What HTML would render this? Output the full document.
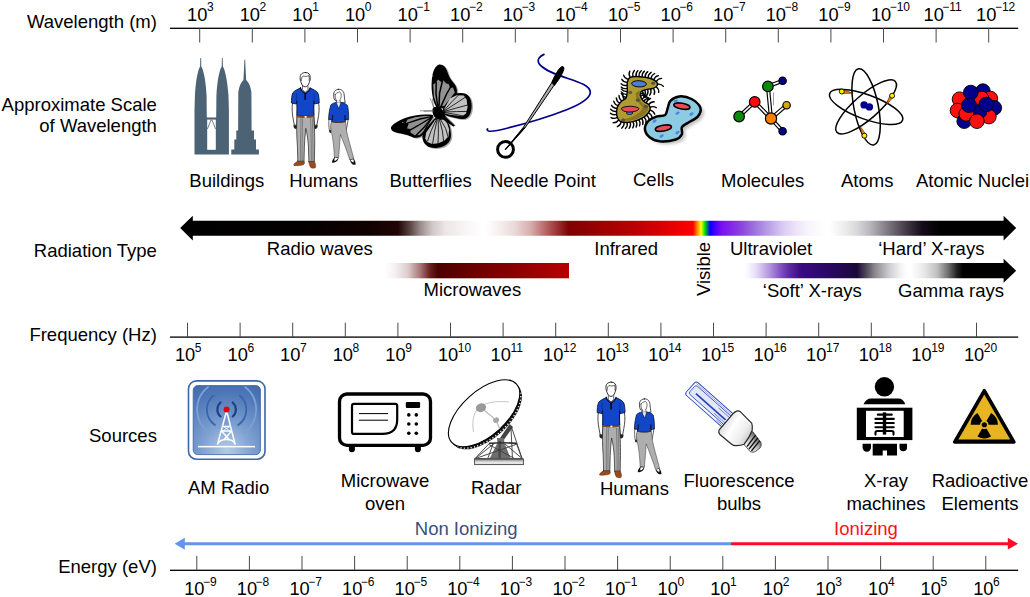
<!DOCTYPE html>
<html><head><meta charset="utf-8"><title>Electromagnetic spectrum</title>
<style>
html,body{margin:0;padding:0;background:#fff;}
body{width:1030px;height:597px;overflow:hidden;}
svg{display:block;font-family:"Liberation Sans",sans-serif;}
</style></head><body>
<svg width="1030" height="597" viewBox="0 0 1030 597">
<rect x="170" y="27.650000000000002" width="848.2" height="1.3" fill="#000"/>
<rect x="199.2" y="28.3" width="1" height="14.2" fill="#4a4a4a"/>
<rect x="251.79999999999998" y="28.3" width="1" height="14.2" fill="#4a4a4a"/>
<rect x="304.4" y="28.3" width="1" height="14.2" fill="#4a4a4a"/>
<rect x="357.0" y="28.3" width="1" height="14.2" fill="#4a4a4a"/>
<rect x="409.6" y="28.3" width="1" height="14.2" fill="#4a4a4a"/>
<rect x="462.2" y="28.3" width="1" height="14.2" fill="#4a4a4a"/>
<rect x="514.8" y="28.3" width="1" height="14.2" fill="#4a4a4a"/>
<rect x="567.4" y="28.3" width="1" height="14.2" fill="#4a4a4a"/>
<rect x="620.0" y="28.3" width="1" height="14.2" fill="#4a4a4a"/>
<rect x="672.6" y="28.3" width="1" height="14.2" fill="#4a4a4a"/>
<rect x="725.2" y="28.3" width="1" height="14.2" fill="#4a4a4a"/>
<rect x="777.8" y="28.3" width="1" height="14.2" fill="#4a4a4a"/>
<rect x="830.4000000000001" y="28.3" width="1" height="14.2" fill="#4a4a4a"/>
<rect x="883.0" y="28.3" width="1" height="14.2" fill="#4a4a4a"/>
<rect x="935.5999999999999" y="28.3" width="1" height="14.2" fill="#4a4a4a"/>
<rect x="988.2" y="28.3" width="1" height="14.2" fill="#4a4a4a"/>
<text x="187.10" y="20.5" font-size="18.3">10</text>
<text x="207.00" y="10.90" font-size="12">3</text>
<text x="239.70" y="20.5" font-size="18.3">10</text>
<text x="259.60" y="10.90" font-size="12">2</text>
<text x="292.30" y="20.5" font-size="18.3">10</text>
<text x="312.20" y="10.90" font-size="12">1</text>
<text x="344.90" y="20.5" font-size="18.3">10</text>
<text x="364.80" y="10.90" font-size="12">0</text>
<text x="397.50" y="20.5" font-size="18.3">10</text>
<text x="416.30" y="10.90" font-size="12">−1</text>
<text x="450.10" y="20.5" font-size="18.3">10</text>
<text x="468.90" y="10.90" font-size="12">−2</text>
<text x="502.70" y="20.5" font-size="18.3">10</text>
<text x="521.50" y="10.90" font-size="12">−3</text>
<text x="555.30" y="20.5" font-size="18.3">10</text>
<text x="574.10" y="10.90" font-size="12">−4</text>
<text x="607.90" y="20.5" font-size="18.3">10</text>
<text x="626.70" y="10.90" font-size="12">−5</text>
<text x="660.50" y="20.5" font-size="18.3">10</text>
<text x="679.30" y="10.90" font-size="12">−6</text>
<text x="713.10" y="20.5" font-size="18.3">10</text>
<text x="731.90" y="10.90" font-size="12">−7</text>
<text x="765.70" y="20.5" font-size="18.3">10</text>
<text x="784.50" y="10.90" font-size="12">−8</text>
<text x="818.30" y="20.5" font-size="18.3">10</text>
<text x="837.10" y="10.90" font-size="12">−9</text>
<text x="870.90" y="20.5" font-size="18.3">10</text>
<text x="889.70" y="10.90" font-size="12">−10</text>
<text x="923.50" y="20.5" font-size="18.3">10</text>
<text x="942.30" y="10.90" font-size="12">−11</text>
<text x="976.10" y="20.5" font-size="18.3">10</text>
<text x="994.90" y="10.90" font-size="12">−12</text>
<rect x="170" y="336.45000000000005" width="848.2" height="1.3" fill="#000"/>
<rect x="187.0" y="322.70000000000005" width="1" height="14.4" fill="#4a4a4a"/>
<rect x="239.6" y="322.70000000000005" width="1" height="14.4" fill="#4a4a4a"/>
<rect x="292.2" y="322.70000000000005" width="1" height="14.4" fill="#4a4a4a"/>
<rect x="344.8" y="322.70000000000005" width="1" height="14.4" fill="#4a4a4a"/>
<rect x="397.4" y="322.70000000000005" width="1" height="14.4" fill="#4a4a4a"/>
<rect x="450.0" y="322.70000000000005" width="1" height="14.4" fill="#4a4a4a"/>
<rect x="502.6" y="322.70000000000005" width="1" height="14.4" fill="#4a4a4a"/>
<rect x="555.2" y="322.70000000000005" width="1" height="14.4" fill="#4a4a4a"/>
<rect x="607.8" y="322.70000000000005" width="1" height="14.4" fill="#4a4a4a"/>
<rect x="660.4000000000001" y="322.70000000000005" width="1" height="14.4" fill="#4a4a4a"/>
<rect x="713.0" y="322.70000000000005" width="1" height="14.4" fill="#4a4a4a"/>
<rect x="765.6" y="322.70000000000005" width="1" height="14.4" fill="#4a4a4a"/>
<rect x="818.2" y="322.70000000000005" width="1" height="14.4" fill="#4a4a4a"/>
<rect x="870.8000000000001" y="322.70000000000005" width="1" height="14.4" fill="#4a4a4a"/>
<rect x="923.4" y="322.70000000000005" width="1" height="14.4" fill="#4a4a4a"/>
<rect x="976.0" y="322.70000000000005" width="1" height="14.4" fill="#4a4a4a"/>
<text x="174.90" y="361.4" font-size="18.3">10</text>
<text x="194.80" y="351.80" font-size="12">5</text>
<text x="227.50" y="361.4" font-size="18.3">10</text>
<text x="247.40" y="351.80" font-size="12">6</text>
<text x="280.10" y="361.4" font-size="18.3">10</text>
<text x="300.00" y="351.80" font-size="12">7</text>
<text x="332.70" y="361.4" font-size="18.3">10</text>
<text x="352.60" y="351.80" font-size="12">8</text>
<text x="385.30" y="361.4" font-size="18.3">10</text>
<text x="405.20" y="351.80" font-size="12">9</text>
<text x="437.90" y="361.4" font-size="18.3">10</text>
<text x="457.80" y="351.80" font-size="12">10</text>
<text x="490.50" y="361.4" font-size="18.3">10</text>
<text x="510.40" y="351.80" font-size="12">11</text>
<text x="543.10" y="361.4" font-size="18.3">10</text>
<text x="563.00" y="351.80" font-size="12">12</text>
<text x="595.70" y="361.4" font-size="18.3">10</text>
<text x="615.60" y="351.80" font-size="12">13</text>
<text x="648.30" y="361.4" font-size="18.3">10</text>
<text x="668.20" y="351.80" font-size="12">14</text>
<text x="700.90" y="361.4" font-size="18.3">10</text>
<text x="720.80" y="351.80" font-size="12">15</text>
<text x="753.50" y="361.4" font-size="18.3">10</text>
<text x="773.40" y="351.80" font-size="12">16</text>
<text x="806.10" y="361.4" font-size="18.3">10</text>
<text x="826.00" y="351.80" font-size="12">17</text>
<text x="858.70" y="361.4" font-size="18.3">10</text>
<text x="878.60" y="351.80" font-size="12">18</text>
<text x="911.30" y="361.4" font-size="18.3">10</text>
<text x="931.20" y="351.80" font-size="12">19</text>
<text x="963.90" y="361.4" font-size="18.3">10</text>
<text x="983.80" y="351.80" font-size="12">20</text>
<rect x="170" y="569.65" width="848.2" height="1.3" fill="#000"/>
<rect x="196.3" y="555.9" width="1" height="14.4" fill="#4a4a4a"/>
<rect x="248.9" y="555.9" width="1" height="14.4" fill="#4a4a4a"/>
<rect x="301.5" y="555.9" width="1" height="14.4" fill="#4a4a4a"/>
<rect x="354.1" y="555.9" width="1" height="14.4" fill="#4a4a4a"/>
<rect x="406.70000000000005" y="555.9" width="1" height="14.4" fill="#4a4a4a"/>
<rect x="459.3" y="555.9" width="1" height="14.4" fill="#4a4a4a"/>
<rect x="511.9000000000001" y="555.9" width="1" height="14.4" fill="#4a4a4a"/>
<rect x="564.5" y="555.9" width="1" height="14.4" fill="#4a4a4a"/>
<rect x="617.1" y="555.9" width="1" height="14.4" fill="#4a4a4a"/>
<rect x="669.7" y="555.9" width="1" height="14.4" fill="#4a4a4a"/>
<rect x="722.3" y="555.9" width="1" height="14.4" fill="#4a4a4a"/>
<rect x="774.9000000000001" y="555.9" width="1" height="14.4" fill="#4a4a4a"/>
<rect x="827.5" y="555.9" width="1" height="14.4" fill="#4a4a4a"/>
<rect x="880.1000000000001" y="555.9" width="1" height="14.4" fill="#4a4a4a"/>
<rect x="932.7" y="555.9" width="1" height="14.4" fill="#4a4a4a"/>
<rect x="985.3" y="555.9" width="1" height="14.4" fill="#4a4a4a"/>
<text x="184.20" y="595.2" font-size="18.3">10</text>
<text x="203.00" y="585.60" font-size="12">−9</text>
<text x="236.80" y="595.2" font-size="18.3">10</text>
<text x="255.60" y="585.60" font-size="12">−8</text>
<text x="289.40" y="595.2" font-size="18.3">10</text>
<text x="308.20" y="585.60" font-size="12">−7</text>
<text x="342.00" y="595.2" font-size="18.3">10</text>
<text x="360.80" y="585.60" font-size="12">−6</text>
<text x="394.60" y="595.2" font-size="18.3">10</text>
<text x="413.40" y="585.60" font-size="12">−5</text>
<text x="447.20" y="595.2" font-size="18.3">10</text>
<text x="466.00" y="585.60" font-size="12">−4</text>
<text x="499.80" y="595.2" font-size="18.3">10</text>
<text x="518.60" y="585.60" font-size="12">−3</text>
<text x="552.40" y="595.2" font-size="18.3">10</text>
<text x="571.20" y="585.60" font-size="12">−2</text>
<text x="605.00" y="595.2" font-size="18.3">10</text>
<text x="623.80" y="585.60" font-size="12">−1</text>
<text x="657.60" y="595.2" font-size="18.3">10</text>
<text x="677.50" y="585.60" font-size="12">0</text>
<text x="710.20" y="595.2" font-size="18.3">10</text>
<text x="730.10" y="585.60" font-size="12">1</text>
<text x="762.80" y="595.2" font-size="18.3">10</text>
<text x="782.70" y="585.60" font-size="12">2</text>
<text x="815.40" y="595.2" font-size="18.3">10</text>
<text x="835.30" y="585.60" font-size="12">3</text>
<text x="868.00" y="595.2" font-size="18.3">10</text>
<text x="887.90" y="585.60" font-size="12">4</text>
<text x="920.60" y="595.2" font-size="18.3">10</text>
<text x="940.50" y="585.60" font-size="12">5</text>
<text x="973.20" y="595.2" font-size="18.3">10</text>
<text x="993.10" y="585.60" font-size="12">6</text>
<text x="156.9" y="28.3" font-size="18.5" text-anchor="end" fill="#000" >Wavelength (m)</text>
<text x="156.9" y="111.4" font-size="18.5" text-anchor="end" fill="#000" >Approximate Scale</text>
<text x="156.9" y="131.8" font-size="18.5" text-anchor="end" fill="#000" >of Wavelength</text>
<text x="156.9" y="256.5" font-size="18.5" text-anchor="end" fill="#000" >Radiation Type</text>
<text x="156.9" y="341.3" font-size="18.5" text-anchor="end" fill="#000" >Frequency (Hz)</text>
<text x="156.9" y="442" font-size="18.5" text-anchor="end" fill="#000" >Sources</text>
<text x="156.9" y="573.0" font-size="18.5" text-anchor="end" fill="#000" >Energy (eV)</text>
<text x="189.3" y="186.7" font-size="18.5" text-anchor="start" fill="#000" >Buildings</text>
<text x="289.2" y="186.7" font-size="18.5" text-anchor="start" fill="#000" >Humans</text>
<text x="389.5" y="186.7" font-size="18.5" text-anchor="start" fill="#000" >Butterflies</text>
<text x="490" y="186.7" font-size="18.5" text-anchor="start" fill="#000" >Needle Point</text>
<text x="633" y="186" font-size="18.5" text-anchor="start" fill="#000" >Cells</text>
<text x="721" y="186.7" font-size="18.5" text-anchor="start" fill="#000" >Molecules</text>
<text x="841" y="186.7" font-size="18.5" text-anchor="start" fill="#000" >Atoms</text>
<text x="916" y="186.7" font-size="18.5" text-anchor="start" fill="#000" >Atomic Nuclei</text>
<text x="266.8" y="255" font-size="18.5" text-anchor="start" fill="#000" >Radio waves</text>
<text x="423.5" y="296.4" font-size="18.5" text-anchor="start" fill="#000" >Microwaves</text>
<text x="594.3" y="255" font-size="18.5" text-anchor="start" fill="#000" >Infrared</text>
<text x="730" y="255" font-size="18.5" text-anchor="start" fill="#000" >Ultraviolet</text>
<text x="878.2" y="255" font-size="18.5" text-anchor="start" fill="#000" >‘Hard’ X-rays</text>
<text x="762.8" y="296.5" font-size="18.5" text-anchor="start" fill="#000" >‘Soft’ X-rays</text>
<text x="898.1" y="296.7" font-size="18.5" text-anchor="start" fill="#000" >Gamma rays</text>
<text transform="translate(710.4,296) rotate(-90)" font-size="18.5">Visible</text>
<text x="188" y="494" font-size="18.5" text-anchor="start" fill="#000" >AM Radio</text>
<text x="385" y="487" font-size="18.5" text-anchor="middle" fill="#000" >Microwave</text>
<text x="385" y="510" font-size="18.5" text-anchor="middle" fill="#000" >oven</text>
<text x="471" y="494" font-size="18.5" text-anchor="start" fill="#000" >Radar</text>
<text x="600" y="495" font-size="18.5" text-anchor="start" fill="#000" >Humans</text>
<text x="739" y="487" font-size="18.5" text-anchor="middle" fill="#000" >Fluorescence</text>
<text x="739" y="510" font-size="18.5" text-anchor="middle" fill="#000" >bulbs</text>
<text x="886" y="487" font-size="18.5" text-anchor="middle" fill="#000" >X-ray</text>
<text x="886" y="510" font-size="18.5" text-anchor="middle" fill="#000" >machines</text>
<text x="980" y="487" font-size="18.5" text-anchor="middle" fill="#000" >Radioactive</text>
<text x="980" y="510" font-size="18.5" text-anchor="middle" fill="#000" >Elements</text>
<text x="466.2" y="534.5" font-size="18.5" text-anchor="middle" fill="#38507c" >Non Ionizing</text>
<text x="866" y="534.5" font-size="18.5" text-anchor="middle" fill="#ff1018" >Ionizing</text>
<defs><linearGradient id="g1" gradientUnits="userSpaceOnUse" x1="180" y1="0" x2="1017" y2="0"><stop offset="0.0000" stop-color="#000000"/><stop offset="0.1434" stop-color="#040000"/><stop offset="0.2270" stop-color="#120000"/><stop offset="0.2605" stop-color="#200404"/><stop offset="0.2748" stop-color="#5a4444"/><stop offset="0.2867" stop-color="#9a8a8a"/><stop offset="0.3011" stop-color="#d0c6c6"/><stop offset="0.3166" stop-color="#ece6e6"/><stop offset="0.3405" stop-color="#f8f5f5"/><stop offset="0.3608" stop-color="#ffffff"/><stop offset="0.3656" stop-color="#ffffff"/><stop offset="0.3823" stop-color="#f6eeee"/><stop offset="0.4002" stop-color="#ead8d8"/><stop offset="0.4182" stop-color="#d8b0b0"/><stop offset="0.4361" stop-color="#b86868"/><stop offset="0.4516" stop-color="#983030"/><stop offset="0.4648" stop-color="#800000"/><stop offset="0.5496" stop-color="#c00000"/><stop offset="0.5974" stop-color="#f00000"/><stop offset="0.6129" stop-color="#ff0000"/><stop offset="0.6177" stop-color="#ff8000"/><stop offset="0.6225" stop-color="#ffff00"/><stop offset="0.6272" stop-color="#00e000"/><stop offset="0.6332" stop-color="#0000ff"/><stop offset="0.6404" stop-color="#5000ff"/><stop offset="0.6476" stop-color="#7a10f0"/><stop offset="0.6691" stop-color="#8a40e0"/><stop offset="0.6882" stop-color="#a078dc"/><stop offset="0.7049" stop-color="#bea4e8"/><stop offset="0.7192" stop-color="#d8c8f2"/><stop offset="0.7348" stop-color="#ebe2f8"/><stop offset="0.7503" stop-color="#f8f4fc"/><stop offset="0.7718" stop-color="#ffffff"/><stop offset="0.7766" stop-color="#ffffff"/><stop offset="0.7945" stop-color="#ececec"/><stop offset="0.8088" stop-color="#d8d8da"/><stop offset="0.8244" stop-color="#b8b6bc"/><stop offset="0.8387" stop-color="#908c94"/><stop offset="0.8542" stop-color="#666068"/><stop offset="0.8686" stop-color="#403844"/><stop offset="0.8865" stop-color="#140c18"/><stop offset="0.9080" stop-color="#000000"/><stop offset="1.0000" stop-color="#000000"/></linearGradient><linearGradient id="g2" gradientUnits="userSpaceOnUse" x1="385" y1="0" x2="569" y2="0"><stop offset="0.0000" stop-color="#ffffff"/><stop offset="0.0543" stop-color="#f6f0f0"/><stop offset="0.1250" stop-color="#dccccc"/><stop offset="0.1902" stop-color="#a87878"/><stop offset="0.2446" stop-color="#6a2020"/><stop offset="0.2880" stop-color="#4c0000"/><stop offset="0.6250" stop-color="#800000"/><stop offset="1.0000" stop-color="#b80000"/></linearGradient><linearGradient id="g3" gradientUnits="userSpaceOnUse" x1="745" y1="0" x2="1017" y2="0"><stop offset="0.0000" stop-color="#ffffff"/><stop offset="0.0184" stop-color="#f6f0fc"/><stop offset="0.0404" stop-color="#e8dcf8"/><stop offset="0.0846" stop-color="#b89ce0"/><stop offset="0.1324" stop-color="#8050c0"/><stop offset="0.1654" stop-color="#5a28a0"/><stop offset="0.2059" stop-color="#3a0a80"/><stop offset="0.3162" stop-color="#280860"/><stop offset="0.4118" stop-color="#1a0838"/><stop offset="0.4449" stop-color="#504858"/><stop offset="0.4779" stop-color="#8c8890"/><stop offset="0.5331" stop-color="#d0d0d2"/><stop offset="0.5735" stop-color="#f4f4f4"/><stop offset="0.5956" stop-color="#ffffff"/><stop offset="0.6103" stop-color="#ffffff"/><stop offset="0.6581" stop-color="#e8e8e8"/><stop offset="0.7059" stop-color="#c0c0c0"/><stop offset="0.7463" stop-color="#707070"/><stop offset="0.7794" stop-color="#202020"/><stop offset="0.8015" stop-color="#000000"/><stop offset="1.0000" stop-color="#000000"/></linearGradient><linearGradient id="g4" gradientUnits="userSpaceOnUse" x1="174" y1="0" x2="1017" y2="0"><stop offset="0.0000" stop-color="#6495ed"/><stop offset="0.6595" stop-color="#6495ed"/><stop offset="0.6607" stop-color="#f01030"/><stop offset="1.0000" stop-color="#f01030"/></linearGradient></defs>
<path d="M180.2 228.1 L192.8 215.7 L192.8 220.7 L1003.6 220.7 L1003.6 215.7 L1016.2 228.1 L1003.6 240.4 L1003.6 235.7 L192.8 235.7 L192.8 240.4 Z" fill="url(#g1)"/>
<rect x="385" y="263" width="184" height="15.3" fill="url(#g2)"/>
<path d="M745 263 L1003.6 263 L1003.6 258.8 L1016.2 270.8 L1003.6 282.8 L1003.6 278.3 L745 278.3 Z" fill="url(#g3)"/>
<path d="M174.7 543.7 L184.8 537.7 L184.8 542.2 L731 542.2 L731 545.2 L184.8 545.2 L184.8 549.8 Z" fill="#6495ed"/>
<path d="M731 542.2 L1007.8 542.2 L1007.8 537.7 L1018 543.7 L1007.8 549.6 L1007.8 545.2 L731 545.2 Z" fill="#ff0a28"/>
<g id="buildings" fill="#4b6375">
<!-- petronas left -->
<path d="M200.3 58 L201.1 58 L201.3 66.5 C203.5 70 205.8 80 206.6 96 L206.8 117.4 L216.2 117.4 L216.4 96 C217.2 80 219.5 70 221.7 66.5 L221.9 58 L222.7 58 L222.9 66.5 C225.1 70 227.4 80 228.5 96 L228.9 110 L228.9 154.6 L194.5 154.6 L194.5 110 L194.9 96 C195.7 80 198 70 200.1 66.5 Z"/>
<path d="M207.2 119.6 L215.8 119.6 L215.8 149.8 L207.2 149.8 Z" fill="#fff"/>
<path d="M207.4 129 L210.9 120.2 L212.1 120.2 L215.6 129" fill="none" stroke="#4b6375" stroke-width="0.8"/>
<!-- empire state -->
<path d="M244.4 59.7 L245.2 59.7 L245.5 67 L246.2 80 C248.5 82 250.6 86 251.4 92 L251.6 130.5 L254 130.5 L254 139.5 L256 139.5 L256 149.6 L258.9 149.6 L258.9 154.6 L231.3 154.6 L231.3 149.6 L234.3 149.6 L234.3 139.5 L236.3 139.5 L236.3 130.5 L238.1 130.5 L238.3 92 C239.1 86 241.2 82 243.4 80 L244.1 67 Z"/>
</g>
<g stroke-linejoin="round" stroke-linecap="round">
<!-- MAN -->
<!-- arms -->
<path d="M292.6 102.5 C291.6 108 292.2 114 293.2 119 L294.3 125 L296.6 125.4 L297.2 118 C297.5 113 297.3 108 297.4 103.2 Z" fill="#fff" stroke="#000" stroke-width="0.7"/>
<path d="M318.6 102.5 C319.6 108 319 114 318 119 L316.9 125 L314.6 125.4 L314 118 C313.7 113 313.9 108 313.8 103.2 Z" fill="#fff" stroke="#000" stroke-width="0.7"/>
<path d="M293.6 125 C293.2 127 294.2 128.8 295.6 129 C297 129 297.6 127.4 297.2 125.4 Z" fill="#222"/>
<path d="M317.6 125 C318 127 317 128.8 315.6 129 C314.2 129 313.6 127.4 314 125.4 Z" fill="#222"/>
<!-- pants -->
<path d="M297 116.8 L313.7 116.8 C314.4 124 314.8 135 314.7 146 L314.4 161.6 L308.9 161.8 L308.4 146 C307.8 138 306.8 132 305.8 128.4 C305.2 134 304.6 140 304.4 146 L304 161.4 L297.8 161.4 L297.4 146 C296.6 136 296.4 126 297 116.8 Z" fill="#aeaeae" stroke="#222" stroke-width="0.7"/>
<path d="M301 118 C300.6 130 300.4 146 300.6 160.5 M302.6 119 C302.4 130 302 146 302.2 160.5 M310.6 118.5 C311 130 311.4 146 311.4 161 M312.4 119 C312.8 130 313 146 313 161" fill="none" stroke="#444" stroke-width="0.45"/>
<!-- shoes -->
<path d="M297.6 161.2 L304.2 161.2 C305 163 304.4 164.6 302.6 165 C299.6 165.6 295.6 166 293.8 165.4 C293.2 164.4 294.6 163 297.6 161.2 Z" fill="#9a4a1e" stroke="#3a1a08" stroke-width="0.4"/>
<path d="M308.8 161.6 L314.5 161.4 C315.6 163.6 316 166 315.4 167.6 C314 168.6 311.6 168.4 310.4 167.2 C309.4 165.6 309 163.6 308.8 161.6 Z" fill="#9a4a1e" stroke="#3a1a08" stroke-width="0.4"/>
<!-- neck + head -->
<path d="M302.6 85 L302.4 89.5 L305.2 92.4 L308 89.5 L307.8 85 Z" fill="#fff" stroke="#000" stroke-width="0.6"/>
<path d="M305.4 72.5 C308.6 72.3 310.4 74.6 310.2 77.6 C310.4 79.4 309.8 81.4 309.2 82.6 C308.6 85 307 86.8 305.2 86.8 C303.4 86.8 301.8 85 301.2 82.6 C300.4 81.2 300 79.2 300.2 77.4 C300 74.6 302 72.6 305.4 72.5 Z" fill="#fff" stroke="#000" stroke-width="0.8"/>
<path d="M301.4 80.6 C301.2 78.6 301.8 77 303 76 C305 76.6 307.6 76.4 308.8 75.6 C309.4 77 309.4 79 309.2 80.6" fill="none" stroke="#000" stroke-width="0.6"/>
<!-- shirt -->
<path d="M300.6 88 C298 89 294.6 90.6 292.8 92.8 C291.6 95.6 291.4 99.6 291.4 103 L296.4 104 L296.8 101 C297 106 297 111 296.8 115.6 C302 116.6 308.6 116.6 313.8 115.6 C313.6 111 313.6 106 313.8 101 L314.2 104 L319.2 103 C319.2 99.6 319 95.6 317.8 92.8 C316 90.6 312.6 89 310 88 C309.4 89.4 308 91.4 305.3 93 C302.6 91.4 301.2 89.4 300.6 88 Z" fill="#1246c8" stroke="#020a30" stroke-width="0.8"/>
<path d="M300.4 87.6 C300.2 89.8 302 91.8 304.4 93.4 M310.2 87.6 C310.4 89.8 308.6 91.8 306.2 93.4" fill="none" stroke="#000" stroke-width="0.8"/>
<rect x="304.5" y="93" width="1.5" height="6.8" fill="#000"/>
<path d="M296.6 93.5 C296 96.4 296.2 99 296.8 101 M314 93.5 C314.6 96.4 314.4 99 313.8 101" fill="none" stroke="#061a5a" stroke-width="0.5"/>
<!-- belt -->
<path d="M296.9 115.4 C302 116.6 308.6 116.6 313.8 115.4 L313.8 117 C308.6 118.2 302 118.2 296.9 117 Z" fill="#8a4a20"/>
<rect x="304.6" y="116" width="2" height="1.7" fill="#fff"/>
<!-- WOMAN -->
<!-- arms -->
<path d="M329 119 C328.6 123 328.8 127 329.4 130.6 L331 130.8 C331.2 127 331.6 123 332.4 119.6 Z" fill="#fff" stroke="#000" stroke-width="0.6"/>
<path d="M348.2 119 C347.8 123 346.8 127 346 130.8 L344.6 130.6 C344.8 127 345 123 345.2 119.6 Z" fill="#fff" stroke="#000" stroke-width="0.6"/>
<path d="M329.2 130.2 C329 132 329.6 133 330.4 133 C331.2 132.8 331.4 131.6 331 130.4 Z M346.2 130.4 C346.2 132.2 345.6 133.2 344.8 133 C344.2 132.6 344.2 131.4 344.6 130.2 Z" fill="#222"/>
<!-- pants -->
<path d="M331.6 121.4 L345 121.4 C346.2 124 346.6 127 346.4 130 C348 138 351 148 353.8 158.6 L349.8 160 C347.4 152 343.4 142 340.4 134.4 C340 142 339.2 150 338.6 157.6 L334.4 157.2 C334 148 333 138 331.2 131 C330.2 127.6 330.4 124 331.6 121.4 Z" fill="#aeaeae" stroke="#333" stroke-width="0.5"/>
<!-- shoes -->
<path d="M334.6 157 L338.4 157.4 C338.6 159.4 337.4 161 335.6 162 C334.2 162.8 332.6 163 332 162.4 C331.8 161 333 159 334.6 157 Z" fill="#111"/>
<path d="M335 157.6 L338 158 C337.4 159.4 336.2 160.4 334.6 161 C334.2 160 334.4 158.8 335 157.6 Z" fill="#fff"/>
<path d="M349.8 159.8 L353.6 158.6 C355 160.6 355.8 162.8 355.6 164.4 C354.4 165.2 352.6 164.6 351.4 163.2 C350.6 162.2 350 161 349.8 159.8 Z" fill="#111"/>
<path d="M350.4 160 L353.2 159.2 C353.8 160.2 353.8 161.4 353.4 162.4 C352 162 351 161.2 350.4 160 Z" fill="#fff"/>
<!-- hair/head -->
<path d="M338.6 89.3 C342 89 344 91.6 344.2 95 C344.4 98 344.8 100.6 345.2 102.6 L341.4 103 L334.6 100 C333.6 97.6 333.4 95 333.8 93 C334.4 90.6 336.2 89.4 338.6 89.3 Z" fill="#fff" stroke="#000" stroke-width="0.7"/>
<path d="M335.2 94.4 C335 96.6 335.4 99 336.4 100.4 C337.2 101.4 338.4 101.4 339.4 100.6 C340.6 99.4 341.2 97.4 341.2 95.4 C341.4 93.6 340.4 92 339.2 91.8 C337.4 92.4 336 93.4 335.2 94.4 Z" fill="#fff" stroke="#000" stroke-width="0.55"/>
<path d="M336.6 100.6 L336.4 103 L339.4 105 L340.4 102.6 L340 100.4" fill="#fff" stroke="#000" stroke-width="0.5"/>
<!-- shirt -->
<path d="M336 102.4 C334 102.8 331.8 103.6 330.8 105 C329.6 109 328.6 114.6 328.6 119.4 L332.2 120 L332.6 115 C332.8 117.4 332.4 119.6 331.4 121.6 C336 122.8 341 122.8 345.2 121.6 C344.8 119.6 344.8 117.4 345 115 L345 120 L348.6 119.4 C348.8 114.6 348.4 109 347.4 105.4 C346.2 103.8 343.6 102.8 341.2 102.4 L338.8 108 Z" fill="#1246c8" stroke="#020a30" stroke-width="0.7"/>
<path d="M336.4 102.6 L338.8 108.4 L340.8 102.6 Z" fill="#e8eef8" stroke="#061a5a" stroke-width="0.4"/>
<path d="M331.6 121.6 C336 122.8 341 122.8 345.2 121.6" fill="none" stroke="#6a3a1a" stroke-width="0.7"/>
</g>
<g stroke-linejoin="round" stroke-linecap="round" transform="translate(305.8 309.6)">
<!-- MAN -->
<!-- arms -->
<path d="M292.6 102.5 C291.6 108 292.2 114 293.2 119 L294.3 125 L296.6 125.4 L297.2 118 C297.5 113 297.3 108 297.4 103.2 Z" fill="#fff" stroke="#000" stroke-width="0.7"/>
<path d="M318.6 102.5 C319.6 108 319 114 318 119 L316.9 125 L314.6 125.4 L314 118 C313.7 113 313.9 108 313.8 103.2 Z" fill="#fff" stroke="#000" stroke-width="0.7"/>
<path d="M293.6 125 C293.2 127 294.2 128.8 295.6 129 C297 129 297.6 127.4 297.2 125.4 Z" fill="#222"/>
<path d="M317.6 125 C318 127 317 128.8 315.6 129 C314.2 129 313.6 127.4 314 125.4 Z" fill="#222"/>
<!-- pants -->
<path d="M297 116.8 L313.7 116.8 C314.4 124 314.8 135 314.7 146 L314.4 161.6 L308.9 161.8 L308.4 146 C307.8 138 306.8 132 305.8 128.4 C305.2 134 304.6 140 304.4 146 L304 161.4 L297.8 161.4 L297.4 146 C296.6 136 296.4 126 297 116.8 Z" fill="#aeaeae" stroke="#222" stroke-width="0.7"/>
<path d="M301 118 C300.6 130 300.4 146 300.6 160.5 M302.6 119 C302.4 130 302 146 302.2 160.5 M310.6 118.5 C311 130 311.4 146 311.4 161 M312.4 119 C312.8 130 313 146 313 161" fill="none" stroke="#444" stroke-width="0.45"/>
<!-- shoes -->
<path d="M297.6 161.2 L304.2 161.2 C305 163 304.4 164.6 302.6 165 C299.6 165.6 295.6 166 293.8 165.4 C293.2 164.4 294.6 163 297.6 161.2 Z" fill="#9a4a1e" stroke="#3a1a08" stroke-width="0.4"/>
<path d="M308.8 161.6 L314.5 161.4 C315.6 163.6 316 166 315.4 167.6 C314 168.6 311.6 168.4 310.4 167.2 C309.4 165.6 309 163.6 308.8 161.6 Z" fill="#9a4a1e" stroke="#3a1a08" stroke-width="0.4"/>
<!-- neck + head -->
<path d="M302.6 85 L302.4 89.5 L305.2 92.4 L308 89.5 L307.8 85 Z" fill="#fff" stroke="#000" stroke-width="0.6"/>
<path d="M305.4 72.5 C308.6 72.3 310.4 74.6 310.2 77.6 C310.4 79.4 309.8 81.4 309.2 82.6 C308.6 85 307 86.8 305.2 86.8 C303.4 86.8 301.8 85 301.2 82.6 C300.4 81.2 300 79.2 300.2 77.4 C300 74.6 302 72.6 305.4 72.5 Z" fill="#fff" stroke="#000" stroke-width="0.8"/>
<path d="M301.4 80.6 C301.2 78.6 301.8 77 303 76 C305 76.6 307.6 76.4 308.8 75.6 C309.4 77 309.4 79 309.2 80.6" fill="none" stroke="#000" stroke-width="0.6"/>
<!-- shirt -->
<path d="M300.6 88 C298 89 294.6 90.6 292.8 92.8 C291.6 95.6 291.4 99.6 291.4 103 L296.4 104 L296.8 101 C297 106 297 111 296.8 115.6 C302 116.6 308.6 116.6 313.8 115.6 C313.6 111 313.6 106 313.8 101 L314.2 104 L319.2 103 C319.2 99.6 319 95.6 317.8 92.8 C316 90.6 312.6 89 310 88 C309.4 89.4 308 91.4 305.3 93 C302.6 91.4 301.2 89.4 300.6 88 Z" fill="#1246c8" stroke="#020a30" stroke-width="0.8"/>
<path d="M300.4 87.6 C300.2 89.8 302 91.8 304.4 93.4 M310.2 87.6 C310.4 89.8 308.6 91.8 306.2 93.4" fill="none" stroke="#000" stroke-width="0.8"/>
<rect x="304.5" y="93" width="1.5" height="6.8" fill="#000"/>
<path d="M296.6 93.5 C296 96.4 296.2 99 296.8 101 M314 93.5 C314.6 96.4 314.4 99 313.8 101" fill="none" stroke="#061a5a" stroke-width="0.5"/>
<!-- belt -->
<path d="M296.9 115.4 C302 116.6 308.6 116.6 313.8 115.4 L313.8 117 C308.6 118.2 302 118.2 296.9 117 Z" fill="#8a4a20"/>
<rect x="304.6" y="116" width="2" height="1.7" fill="#fff"/>
<!-- WOMAN -->
<!-- arms -->
<path d="M329 119 C328.6 123 328.8 127 329.4 130.6 L331 130.8 C331.2 127 331.6 123 332.4 119.6 Z" fill="#fff" stroke="#000" stroke-width="0.6"/>
<path d="M348.2 119 C347.8 123 346.8 127 346 130.8 L344.6 130.6 C344.8 127 345 123 345.2 119.6 Z" fill="#fff" stroke="#000" stroke-width="0.6"/>
<path d="M329.2 130.2 C329 132 329.6 133 330.4 133 C331.2 132.8 331.4 131.6 331 130.4 Z M346.2 130.4 C346.2 132.2 345.6 133.2 344.8 133 C344.2 132.6 344.2 131.4 344.6 130.2 Z" fill="#222"/>
<!-- pants -->
<path d="M331.6 121.4 L345 121.4 C346.2 124 346.6 127 346.4 130 C348 138 351 148 353.8 158.6 L349.8 160 C347.4 152 343.4 142 340.4 134.4 C340 142 339.2 150 338.6 157.6 L334.4 157.2 C334 148 333 138 331.2 131 C330.2 127.6 330.4 124 331.6 121.4 Z" fill="#aeaeae" stroke="#333" stroke-width="0.5"/>
<!-- shoes -->
<path d="M334.6 157 L338.4 157.4 C338.6 159.4 337.4 161 335.6 162 C334.2 162.8 332.6 163 332 162.4 C331.8 161 333 159 334.6 157 Z" fill="#111"/>
<path d="M335 157.6 L338 158 C337.4 159.4 336.2 160.4 334.6 161 C334.2 160 334.4 158.8 335 157.6 Z" fill="#fff"/>
<path d="M349.8 159.8 L353.6 158.6 C355 160.6 355.8 162.8 355.6 164.4 C354.4 165.2 352.6 164.6 351.4 163.2 C350.6 162.2 350 161 349.8 159.8 Z" fill="#111"/>
<path d="M350.4 160 L353.2 159.2 C353.8 160.2 353.8 161.4 353.4 162.4 C352 162 351 161.2 350.4 160 Z" fill="#fff"/>
<!-- hair/head -->
<path d="M338.6 89.3 C342 89 344 91.6 344.2 95 C344.4 98 344.8 100.6 345.2 102.6 L341.4 103 L334.6 100 C333.6 97.6 333.4 95 333.8 93 C334.4 90.6 336.2 89.4 338.6 89.3 Z" fill="#fff" stroke="#000" stroke-width="0.7"/>
<path d="M335.2 94.4 C335 96.6 335.4 99 336.4 100.4 C337.2 101.4 338.4 101.4 339.4 100.6 C340.6 99.4 341.2 97.4 341.2 95.4 C341.4 93.6 340.4 92 339.2 91.8 C337.4 92.4 336 93.4 335.2 94.4 Z" fill="#fff" stroke="#000" stroke-width="0.55"/>
<path d="M336.6 100.6 L336.4 103 L339.4 105 L340.4 102.6 L340 100.4" fill="#fff" stroke="#000" stroke-width="0.5"/>
<!-- shirt -->
<path d="M336 102.4 C334 102.8 331.8 103.6 330.8 105 C329.6 109 328.6 114.6 328.6 119.4 L332.2 120 L332.6 115 C332.8 117.4 332.4 119.6 331.4 121.6 C336 122.8 341 122.8 345.2 121.6 C344.8 119.6 344.8 117.4 345 115 L345 120 L348.6 119.4 C348.8 114.6 348.4 109 347.4 105.4 C346.2 103.8 343.6 102.8 341.2 102.4 L338.8 108 Z" fill="#1246c8" stroke="#020a30" stroke-width="0.7"/>
<path d="M336.4 102.6 L338.8 108.4 L340.8 102.6 Z" fill="#e8eef8" stroke="#061a5a" stroke-width="0.4"/>
<path d="M331.6 121.6 C336 122.8 341 122.8 345.2 121.6" fill="none" stroke="#6a3a1a" stroke-width="0.7"/>
</g>

<g id="butterfly">
<g transform="translate(1.4 0.9)" fill="#a8a8a8">
<path d="M437.6 109 C435 105 433.4 101.5 432.9 97.9 C431.6 92 431.3 86 431.7 81.4 C432 76 432.8 72.5 434.1 69.7 C435.4 66.8 437.4 64.6 439.3 64.4 C441.6 64.2 443.8 65.4 445.2 67.4 C447 70 448 73.6 449.3 76.8 C450.8 80 453.4 82.4 455.2 85 C456.6 87.4 457.2 90.4 456.9 93.2 L443.4 108 Z"/>
<path d="M443 109 C444.6 104.6 446.6 100 449.3 96.7 C451.4 94.4 454.4 93.4 457.5 93.2 C460.4 92.8 463.4 92.8 465.7 93.8 C468 94.8 469.6 96.8 470.4 99 C471.4 101.6 471.8 104.6 471.6 107.2 C471.4 110.2 470.6 113.2 469.2 115.4 C467.8 117.4 465.8 118.8 463.4 119 C458.6 119.2 453.8 117.6 449.3 116.6 L443.4 114.6 Z"/>
<path d="M433 115 C430.4 114.6 427.8 114.5 425.2 114.6 C421.8 114.7 418.4 115 415.2 115.6 C411.8 116.2 408.2 117 405.1 118.1 C402 119.3 398.8 120.8 396.1 122.6 C394 124 391.6 125.6 391 127.2 C390.6 128.8 391.6 130.4 393 131.2 C395 132.2 397.6 132.8 400.1 133.2 C402.8 133.8 405.4 134.4 408.1 135.2 C410.2 136 412 137.2 414.1 137.7 C416.2 138 418.4 137.6 420.2 136.7 C421.6 136 422.4 135.2 423.2 134.2 C425.2 131.4 426.8 128.2 428.2 125.2 C429.6 122.6 431 120.2 432.6 118 Z"/>
<path d="M434.4 118.6 C430.4 123.2 426.2 128 423.2 133.2 C422.2 135 422.2 137.2 422.7 139.2 C423 141 424 142.8 425.2 144.2 C426.6 145.8 428.4 146.8 430.2 147.3 C432.4 148 435 148.2 437.3 147.8 C440.2 147.4 443 146.8 445.3 145.3 C447.6 143.8 449.4 141.6 450.3 139.2 C451 137.2 451 135.2 450.8 133.2 C450.6 130.4 450.2 127.8 449.3 125.2 C448.4 123 447 120.8 445.3 119.1 L440 116.5 Z"/>
</g>
<g fill="#000">
<path d="M437.6 109 C435 105 433.4 101.5 432.9 97.9 C431.6 92 431.3 86 431.7 81.4 C432 76 432.8 72.5 434.1 69.7 C435.4 66.8 437.4 64.6 439.3 64.4 C441.6 64.2 443.8 65.4 445.2 67.4 C447 70 448 73.6 449.3 76.8 C450.8 80 453.4 82.4 455.2 85 C456.6 87.4 457.2 90.4 456.9 93.2 L443.4 108 Z"/>
<path d="M443 109 C444.6 104.6 446.6 100 449.3 96.7 C451.4 94.4 454.4 93.4 457.5 93.2 C460.4 92.8 463.4 92.8 465.7 93.8 C468 94.8 469.6 96.8 470.4 99 C471.4 101.6 471.8 104.6 471.6 107.2 C471.4 110.2 470.6 113.2 469.2 115.4 C467.8 117.4 465.8 118.8 463.4 119 C458.6 119.2 453.8 117.6 449.3 116.6 L443.4 114.6 Z"/>
<path d="M433 115 C430.4 114.6 427.8 114.5 425.2 114.6 C421.8 114.7 418.4 115 415.2 115.6 C411.8 116.2 408.2 117 405.1 118.1 C402 119.3 398.8 120.8 396.1 122.6 C394 124 391.6 125.6 391 127.2 C390.6 128.8 391.6 130.4 393 131.2 C395 132.2 397.6 132.8 400.1 133.2 C402.8 133.8 405.4 134.4 408.1 135.2 C410.2 136 412 137.2 414.1 137.7 C416.2 138 418.4 137.6 420.2 136.7 C421.6 136 422.4 135.2 423.2 134.2 C425.2 131.4 426.8 128.2 428.2 125.2 C429.6 122.6 431 120.2 432.6 118 Z"/>
<path d="M434.4 118.6 C430.4 123.2 426.2 128 423.2 133.2 C422.2 135 422.2 137.2 422.7 139.2 C423 141 424 142.8 425.2 144.2 C426.6 145.8 428.4 146.8 430.2 147.3 C432.4 148 435 148.2 437.3 147.8 C440.2 147.4 443 146.8 445.3 145.3 C447.6 143.8 449.4 141.6 450.3 139.2 C451 137.2 451 135.2 450.8 133.2 C450.6 130.4 450.2 127.8 449.3 125.2 C448.4 123 447 120.8 445.3 119.1 L440 116.5 Z"/>
</g>
<!-- inner gray regions -->
<path d="M437.4 106.5 L433.9 97 L433.2 84.6 L436 82.6 L438 79.6 L441.2 82 L443.5 80.6 L446.2 83.4 L448.7 84 L450.2 88 L453 87.6 L454.8 92.4 L444.2 106 Z" fill="#929292"/>
<path d="M444.5 108.4 L449.8 98.4 L456.6 95.2 L463.8 95.6 L466.6 99.6 L467.6 107 L466 113.4 L462.4 116.2 L450 114.8 L444.5 113.2 Z" fill="#c2c2c2"/>
<path d="M431.6 116 L424 115.9 L415 117.2 L407.6 119.4 L405.8 122.4 L408.6 124 L407 128.4 L410.6 129 L410.4 132.4 L415.2 135.4 L419.7 134.9 L422.7 132.2 L427.7 124.1 L431.7 117.8 Z" fill="#929292"/>
<path d="M435 120.2 L426.2 132.4 L425.2 138.4 L427.2 142 L432.2 144 L438.3 143.2 L444.3 140.7 L448.6 136.2 L449.1 129.2 L447.2 123.4 L444.3 119.6 L439.5 117.5 Z" fill="#c2c2c2"/>
<!-- veins -->
<g stroke="#000" fill="none" stroke-linecap="round">
<path d="M437.8 106.5 L436 94 L436.2 82.6 M439 106 L439.6 93 L442.4 81 M441 106.4 L446.6 94 L451.4 85.6" stroke-width="1.5"/>
<path d="M444 110.4 L452 101.6 L458.6 95 M444.4 110.8 L455 104 L465 97.4 M444.4 111.4 L456.4 108 L467.6 105 M444.4 112 L456.4 111.6 L467 111.4 M444.4 112.4 L455.4 114.4 L463.4 116" stroke-width="0.8"/>
<path d="M432 116.4 L420 119 L406.8 123.4 M432 117 L422.4 123 L409.6 130.4 M432 117.4 L424.6 126.8 L416 135.4" stroke-width="1.4"/>
<path d="M436.4 119.6 L431 131 L427.6 141 M437.2 119.6 L434.4 132.4 L432.6 144 M438.2 119.6 L438.4 132.4 L438 143.4 M439.4 119.6 L442.4 131 L443.6 141 M440.4 119.4 L445.6 128.4 L448 136.6" stroke-width="0.8"/>
</g>
<!-- body -->
<path d="M433.2 107.6 C435.2 106 439 106.8 441.2 108.8 C443.6 110.8 444.6 113.4 445.2 115.4 L455 125.2 L453.6 126.8 L443 119.6 C440.4 120.2 436.8 119.4 434.6 117 C432.4 114.4 431.8 109.8 433.2 107.6 Z" fill="#000"/>
<path d="M444.4 116 L454.8 125.6" stroke="#999" stroke-width="0.6" transform="translate(1 0.6)"/>
<g stroke="#555" stroke-width="0.6" fill="none" stroke-linecap="round">
<path d="M434 108.6 L431.6 101.4 L430 98.4 M433.6 107.6 L432.4 99"/>
<path d="M433.4 110.4 L426 110.6 L420.4 110.8 M433.4 111.2 L424 111.4"/>
</g>
<circle cx="432.8" cy="76" r="0.5" fill="#ddd"/>
<circle cx="402.8" cy="122.6" r="0.5" fill="#ddd"/>
</g>
<g id="needle">
<path d="M543.9 54.4 C539 56.5 537 60 539 63.5 C543 70 556 74.5 568 78.5 C580 82.5 590.5 86 590.3 92.5 C590 99 580 104.5 566 110 C548 117 522 124.5 508 128 C498 130.5 491 131.8 488.6 131 C486.8 130.3 487 129.4 487.6 129" fill="none" stroke="#00008b" stroke-width="1.7" stroke-linecap="round"/>
<path d="M505.3 149.6 L523.6 127 L552 82.3 C555 75 559 68 561.5 66.8 C563.5 66 564.5 67.5 563.6 70 C562.5 74 558.5 80.5 553.6 86 L524.9 128 Z" fill="#aaa" stroke="#000" stroke-width="1.0" stroke-linejoin="round"/>
<path d="M551.3 82.5 C555 75 559 68 561.5 66.8 C563.5 66 564.5 67.5 563.6 70 C562.5 74 558.5 80.5 554.4 86 C553 84.5 552.2 83.5 551.3 82.5 Z" fill="#000"/>
<path d="M505.3 149.6 L524.5 127.5" stroke="#000" stroke-width="1.3" fill="none"/>
<circle cx="505.5" cy="149.4" r="7.9" fill="none" stroke="#000" stroke-width="3"/>
</g>
<g id="cells">
<defs><filter id="cblur" x="-20%" y="-20%" width="140%" height="140%"><feGaussianBlur stdDeviation="1.6"/></filter></defs>
<path d="M670.4 100.8 C672.3 98.9 675.7 96.7 679.2 96.4 C682.7 96.1 688.0 97.1 691.5 99.0 C695.1 100.9 699.3 104.9 700.4 107.8 C701.4 110.8 699.8 114.1 697.7 116.6 C695.7 119.1 690.7 121.0 688.0 122.8 C685.4 124.5 682.9 125.3 681.9 127.2 C680.8 129.1 682.9 132.2 681.9 134.2 C680.8 136.3 679.4 138.3 675.7 139.5 C672.0 140.7 664.3 141.7 659.9 141.3 C655.5 140.8 651.8 138.9 649.3 136.9 C646.8 134.8 645.0 131.6 644.9 128.9 C644.7 126.3 646.5 123.1 648.4 121.0 C650.3 119.0 653.6 117.6 656.3 116.6 C659.1 115.6 663.2 116.3 665.1 114.9 C667.0 113.4 666.9 110.2 667.8 107.8 C668.7 105.5 668.5 102.7 670.4 100.8 Z" fill="#c4c4c4" transform="translate(3.5 3)" filter="url(#cblur)"/>
<path d="M630.2 77.3 Q628.2 74.2 629.8 71.1 M633.1 76.7 Q632.0 73.2 634.4 70.5 M636.1 76.6 Q635.4 73.0 638.0 70.6 M639.2 76.7 Q638.6 73.0 641.3 70.8 M642.2 76.9 Q641.7 73.2 644.5 71.1 M645.1 77.3 Q644.9 73.6 647.8 71.6 M648.1 77.8 Q648.1 74.1 651.2 72.3 M651.0 78.6 Q651.5 74.9 654.7 73.5 M653.8 79.8 Q654.9 76.3 658.4 75.6 M656.2 81.6 Q658.0 78.4 661.6 78.4 M657.5 84.2 Q661.2 83.6 663.4 86.4 M656.1 86.7 Q659.1 88.9 658.7 92.4 M653.5 88.3 Q655.6 91.3 654.1 94.5 M650.6 89.0 Q651.9 92.4 649.7 95.2 M647.6 89.3 Q648.9 92.8 646.6 95.5 M644.7 89.9 Q646.3 93.3 644.4 96.2 M641.9 91.0 Q644.5 93.5 643.7 97.0 M640.2 93.4 Q643.9 93.5 645.5 96.6 M640.5 96.3 Q643.5 94.3 646.7 95.9 M641.9 99.0 Q644.5 96.4 647.9 97.3 M643.7 101.4 Q645.6 98.2 649.1 98.2 M646.2 103.0 Q647.2 99.5 650.6 98.5 M648.7 104.6 Q650.8 101.6 654.3 101.8 M650.2 107.2 Q653.5 105.7 656.4 107.7 M649.9 110.2 Q653.5 110.8 654.8 114.2 M648.4 112.8 Q651.8 114.3 652.2 117.8 M646.4 115.1 Q649.4 117.2 649.1 120.7 M644.0 116.9 Q646.7 119.4 645.9 122.9 M641.5 118.4 Q643.9 121.2 642.7 124.5 M638.7 119.7 Q640.9 122.7 639.5 125.9 M635.9 120.8 Q637.8 124.0 636.1 127.1 M633.0 121.7 Q634.7 125.0 632.7 127.9 M630.1 122.3 Q631.4 125.7 629.1 128.4 M627.1 122.5 Q628.0 126.1 625.4 128.5 M624.1 122.4 Q624.5 126.0 621.7 128.2 M621.2 121.7 Q620.6 125.4 617.3 126.7 M618.7 120.0 Q616.6 123.0 613.1 122.7 M617.3 117.4 Q614.2 119.3 611.0 117.6 M616.6 114.4 Q613.1 115.6 610.4 113.2 M616.5 111.4 Q612.9 112.0 610.6 109.3 M617.0 108.4 Q613.3 108.4 611.5 105.3 M618.0 105.6 Q614.5 104.5 613.7 101.1 M619.8 103.2 Q616.5 101.5 616.3 97.9 M621.8 101.0 Q618.8 98.9 619.0 95.4 M624.4 99.4 Q621.9 96.7 623.0 93.3 M626.4 97.3 Q622.7 96.8 621.3 93.6 M627.0 94.3 Q623.3 94.7 621.2 91.9 M627.2 91.3 Q623.6 91.9 621.4 89.1 M627.3 88.3 Q623.7 89.3 621.2 86.9 M627.1 85.3 Q623.5 86.2 621.1 83.7 M627.3 82.3 Q623.6 82.3 621.8 79.3 M628.1 79.4 Q624.6 78.5 623.6 75.1 " fill="none" stroke="#000" stroke-width="1.35" stroke-linecap="round"/>
<path d="M630.2 77.3 C632.4 76.3 636.8 76.5 640.2 76.7 C643.6 76.9 648.0 77.6 650.7 78.5 C653.5 79.4 655.5 80.8 656.6 82.0 C657.7 83.2 657.8 84.4 657.2 85.5 C656.6 86.6 654.9 87.8 653.1 88.4 C651.2 89.1 648.0 89.1 646.0 89.6 C644.1 90.1 642.3 90.4 641.3 91.4 C640.4 92.4 639.8 93.8 640.2 95.5 C640.6 97.1 642.2 99.8 643.7 101.3 C645.2 102.9 647.9 103.5 649.0 104.9 C650.0 106.2 650.6 107.8 650.1 109.5 C649.6 111.3 648.1 113.7 646.0 115.4 C644.0 117.2 640.8 118.9 637.8 120.1 C634.9 121.3 631.4 122.2 628.4 122.4 C625.5 122.6 622.2 122.4 620.2 121.3 C618.3 120.1 617.2 117.8 616.7 115.4 C616.2 113.1 616.5 109.5 617.3 107.2 C618.1 104.9 619.9 102.9 621.4 101.3 C622.9 99.8 625.1 99.6 626.1 97.8 C627.1 96.1 627.1 93.3 627.3 90.8 C627.5 88.3 626.8 84.8 627.3 82.6 C627.8 80.3 628.1 78.3 630.2 77.3 Z" fill="#b09a32" stroke="#000" stroke-width="1.4" stroke-linejoin="round"/>
<polygon points="640.2,90.2 638.4,95.5 641.9,102.5 647.2,106.0 648.4,110.1 644.3,114.8 637.2,118.9 628.4,121.0 622.6,120.1 633.1,116.6 640.2,111.9 642.5,107.2 636.7,100.2 635.5,93.1" fill="#8a7622"/>
<ellipse cx="639" cy="83.8" rx="7.4" ry="3.1" fill="#4a7ed8" stroke="#000" stroke-width="0.9" transform="rotate(3 639 83.8)"/>
<ellipse cx="629.6" cy="113" rx="3.2" ry="1.5" fill="#4a7ed8" stroke="#000" stroke-width="0.7"/>
<path d="M621.6 108.2 C624 106 634 105.4 638.6 108 C640 109.2 637 111.6 630.4 112 C625 112.2 621 110.4 621.6 108.2 Z" fill="#f04858" stroke="#000" stroke-width="0.9"/>
<ellipse cx="653.1" cy="83.2" rx="1.7" ry="1.3" fill="#555" stroke="#333" stroke-width="0.4"/>
<ellipse cx="630.2" cy="92.5" rx="1.7" ry="1.3" fill="#555" stroke="#333" stroke-width="0.4"/>
<ellipse cx="637.8" cy="100.2" rx="1.7" ry="1.3" fill="#555" stroke="#333" stroke-width="0.4"/>
<ellipse cx="646.0" cy="106.6" rx="1.7" ry="1.3" fill="#555" stroke="#333" stroke-width="0.4"/>
<ellipse cx="623.2" cy="120.1" rx="1.7" ry="1.3" fill="#555" stroke="#333" stroke-width="0.4"/>
<path d="M670.4 100.8 C672.3 98.9 675.7 96.7 679.2 96.4 C682.7 96.1 688.0 97.1 691.5 99.0 C695.1 100.9 699.3 104.9 700.4 107.8 C701.4 110.8 699.8 114.1 697.7 116.6 C695.7 119.1 690.7 121.0 688.0 122.8 C685.4 124.5 682.9 125.3 681.9 127.2 C680.8 129.1 682.9 132.2 681.9 134.2 C680.8 136.3 679.4 138.3 675.7 139.5 C672.0 140.7 664.3 141.7 659.9 141.3 C655.5 140.8 651.8 138.9 649.3 136.9 C646.8 134.8 645.0 131.6 644.9 128.9 C644.7 126.3 646.5 123.1 648.4 121.0 C650.3 119.0 653.6 117.6 656.3 116.6 C659.1 115.6 663.2 116.3 665.1 114.9 C667.0 113.4 666.9 110.2 667.8 107.8 C668.7 105.5 668.5 102.7 670.4 100.8 Z" fill="#8ccbe2" stroke="#000" stroke-width="2.5" stroke-linejoin="round"/>
<ellipse cx="681.9" cy="106.1" rx="8.2" ry="2.9" fill="#f04858" stroke="#000" stroke-width="1.5" transform="rotate(10 681.9 106.1)"/>
<ellipse cx="663.4" cy="128.1" rx="8.2" ry="2.9" fill="#f04858" stroke="#000" stroke-width="1.5" transform="rotate(-10 663.4 128.1)"/>
<ellipse cx="677.5" cy="113.1" rx="2.3" ry="1.3" fill="#4a88dc" transform="rotate(-30 677.5 113.1)"/>
<ellipse cx="691.5" cy="114.0" rx="2.3" ry="1.3" fill="#4a88dc" transform="rotate(-30 691.5 114.0)"/>
<ellipse cx="654.6" cy="121.0" rx="2.3" ry="1.3" fill="#4a88dc" transform="rotate(-30 654.6 121.0)"/>
<ellipse cx="661.6" cy="136.0" rx="2.3" ry="1.3" fill="#4a88dc" transform="rotate(-30 661.6 136.0)"/>
<ellipse cx="677.5" cy="132.5" rx="2.3" ry="1.3" fill="#4a88dc" transform="rotate(-30 677.5 132.5)"/>
<ellipse cx="675.7" cy="101.1" rx="2.3" ry="1.3" fill="#4a88dc" transform="rotate(-30 675.7 101.1)"/>
</g>
<g id="molecules">
<line x1="773.5" y1="92.4" x2="773.5" y2="105.2" stroke="#888" stroke-width="0.8"/>
<line x1="767.9" y1="86.4" x2="771.0" y2="118.5" stroke="#000" stroke-width="4.0"/>
<line x1="767.9" y1="86.4" x2="771.0" y2="118.5" stroke="#fff" stroke-width="1.7"/>
<line x1="767.9" y1="86.4" x2="782.6" y2="80.8" stroke="#000" stroke-width="4.0"/>
<line x1="767.9" y1="86.4" x2="782.6" y2="80.8" stroke="#fff" stroke-width="1.7"/>
<line x1="754.7" y1="101.9" x2="739.1" y2="116.5" stroke="#000" stroke-width="4.0"/>
<line x1="754.7" y1="101.9" x2="739.1" y2="116.5" stroke="#fff" stroke-width="1.7"/>
<line x1="754.7" y1="101.9" x2="771.0" y2="118.5" stroke="#000" stroke-width="4.0"/>
<line x1="754.7" y1="101.9" x2="771.0" y2="118.5" stroke="#fff" stroke-width="1.7"/>
<line x1="771.0" y1="118.5" x2="786.6" y2="105.2" stroke="#000" stroke-width="4.0"/>
<line x1="771.0" y1="118.5" x2="786.6" y2="105.2" stroke="#fff" stroke-width="1.7"/>
<line x1="771.0" y1="118.5" x2="782.6" y2="131.2" stroke="#000" stroke-width="4.0"/>
<line x1="771.0" y1="118.5" x2="782.6" y2="131.2" stroke="#fff" stroke-width="1.7"/>
<circle cx="767.9" cy="86.4" r="5.3" fill="#0a8a0a" stroke="#000" stroke-width="1.2"/>
<circle cx="782.6" cy="80.8" r="3.7" fill="#00008b" stroke="#000" stroke-width="1.2"/>
<circle cx="754.7" cy="101.9" r="5.3" fill="#ff0a0a" stroke="#000" stroke-width="1.2"/>
<circle cx="739.1" cy="116.5" r="5.3" fill="#0a8a0a" stroke="#000" stroke-width="1.2"/>
<circle cx="771.0" cy="118.5" r="5.6" fill="#ff7f00" stroke="#000" stroke-width="1.2"/>
<circle cx="786.6" cy="105.2" r="3.7" fill="#d4aa00" stroke="#000" stroke-width="1.2"/>
<circle cx="782.6" cy="131.2" r="3.7" fill="#00008b" stroke="#000" stroke-width="1.2"/>
</g>
<g id="atom" fill="none" stroke="#000" stroke-width="1.5">
<ellipse cx="866.1" cy="106.9" rx="38.8" ry="12.2" transform="rotate(78.7 866.1 106.9)"/>
<ellipse cx="866.1" cy="106.9" rx="38.8" ry="12.2" transform="rotate(-41 866.1 106.9)"/>
<ellipse cx="866.1" cy="106.9" rx="38.8" ry="12.2" transform="rotate(20 866.1 106.9)"/>
</g>
<g id="atom2">
<path d="M841.5 93.5 L853.2 93.2 L842.1 89.5 Z" fill="#ff7f00" stroke="#000" stroke-width="0.5"/>
<path d="M890.4 94.6 L885.7 105.3 L893.7 96.8 Z" fill="#ff7f00" stroke="#000" stroke-width="0.5"/>
<path d="M866.2 134.9 L859.6 125.4 L862.6 136.6 Z" fill="#ff7f00" stroke="#000" stroke-width="0.5"/>
<circle cx="841.8" cy="91.5" r="2.5" fill="#ffee00" stroke="#000" stroke-width="0.9"/>
<circle cx="892.1" cy="95.7" r="2.5" fill="#ffee00" stroke="#000" stroke-width="0.9"/>
<circle cx="864.4" cy="135.7" r="2.5" fill="#ffee00" stroke="#000" stroke-width="0.9"/>
<circle cx="864.1" cy="104.9" r="3.7" fill="#00008b"/>
<circle cx="869.4" cy="106.9" r="3.7" fill="#00008b"/>
</g>
<g id="nuclei" stroke="#000" stroke-width="0.9">
<circle cx="982.9" cy="91.1" r="7.3" fill="#00008b"/>
<circle cx="959.5" cy="99.2" r="7.3" fill="#ff1010"/>
<circle cx="990.3" cy="98.5" r="7.3" fill="#ff1010"/>
<circle cx="994.3" cy="107.9" r="7.3" fill="#00008b"/>
<circle cx="957.5" cy="110.5" r="7.3" fill="#ff1010"/>
<circle cx="964.2" cy="121.2" r="7.3" fill="#00008b"/>
<circle cx="988.9" cy="116.6" r="7.3" fill="#ff1010"/>
<circle cx="979.6" cy="111.2" r="7.3" fill="#00008b"/>
<circle cx="981.6" cy="98.5" r="7.3" fill="#ff1010"/>
<circle cx="970.8" cy="92.5" r="7.3" fill="#00008b"/>
<circle cx="966.2" cy="113.9" r="7.3" fill="#ff1010"/>
<circle cx="968.8" cy="105.2" r="7.3" fill="#00008b"/>
<circle cx="986.2" cy="104.5" r="7.3" fill="#00008b"/>
<circle cx="976.9" cy="121.2" r="7.3" fill="#ff1010"/>
</g>
<g id="amradio">
<defs>
<radialGradient id="amg" gradientUnits="userSpaceOnUse" cx="227" cy="450" r="75">
<stop offset="0" stop-color="#b4cbe8"/><stop offset="0.35" stop-color="#7d9fd0"/><stop offset="0.75" stop-color="#5078b8"/><stop offset="1" stop-color="#4068a8"/>
</radialGradient>
<clipPath id="amclip"><rect x="193.2" y="385.6" width="67.2" height="69" rx="4.5"/></clipPath>
</defs>
<rect x="188.5" y="380.9" width="76.5" height="78.3" rx="8" fill="#fff" stroke="#3a66aa" stroke-width="1.6"/>
<rect x="193.2" y="385.6" width="67.2" height="69" rx="4.5" fill="url(#amg)" stroke="#3560a5" stroke-width="0.8"/>
<g clip-path="url(#amclip)" fill="none" stroke-linecap="round">
<path d="M220.5 402.5 A9.3 9.3 0 0 0 220.5 416.5 M232.7 402.5 A9.3 9.3 0 0 1 232.7 416.5" stroke="#1c4488" stroke-width="2.2"/>
<path d="M213.5 395.5 A18.5 18.5 0 0 0 215 425 M239.7 395.5 A18.5 18.5 0 0 1 238.2 425" stroke="#3766b0" stroke-width="1.8"/>
<path d="M208 387 A28.5 28.5 0 0 0 209.5 433 M245.2 387 A28.5 28.5 0 0 1 243.7 433" stroke="#7ba0d6" stroke-width="1.8"/>
</g>
<g stroke="#fff" fill="none" stroke-width="1.5" stroke-linejoin="round">
<path d="M226.6 411 L217.4 444.6 M226.6 411 L235.2 444.6"/>
<path d="M222.8 426.5 L230.4 426.5 M221.6 431 L231.6 431"/>
<path d="M221.6 431 L229.5 440 M231.6 431 L223.6 440"/>
<path d="M217.6 444.3 C220 438 233 438 235 444.3"/>
<path d="M223 426 L230 431 M230.2 426 L223 431" stroke-width="0.7"/>
</g>
<rect x="198" y="445.9" width="57" height="1.5" fill="#fff"/>
<circle cx="226.6" cy="409.5" r="3" fill="#e00010"/>
</g>
<g id="microwave">
<rect x="348.9" y="444" width="6" height="8.2" rx="3" fill="#000"/>
<rect x="414.9" y="444" width="6" height="8.2" rx="3" fill="#000"/>
<rect x="339.5" y="394" width="91" height="51.4" rx="7.5" fill="#fff" stroke="#000" stroke-width="3.3"/>
<path d="M354 403.8 L395.2 403.8 Q397.2 403.8 397.2 405.8 L397.2 419.5 Q397.2 433.9 382.5 433.9 L354 433.9 Q352 433.9 352 431.9 L352 405.8 Q352 403.8 354 403.8 Z" fill="#fff" stroke="#000" stroke-width="2.2"/>
<path d="M358.9 413.6 L388 413.6 M358.9 420.2 L388 420.2" stroke="#000" stroke-width="1.0"/>
<rect x="405.8" y="402.1" width="14.3" height="5.8" rx="1.2" fill="#000"/>
<g fill="#000">
<circle cx="408.8" cy="414.9" r="1.8"/><circle cx="416.3" cy="414.9" r="1.8"/>
<circle cx="408.8" cy="424" r="1.8"/><circle cx="416.3" cy="424" r="1.8"/>
<circle cx="408.8" cy="433.3" r="1.8"/><circle cx="416.3" cy="433.3" r="1.8"/>
</g>
</g>
<g id="radar">
<!-- support structure -->
<path d="M509.6 424 L513 427 L503 441 L498 441 Z" fill="#444"/>
<path d="M497 438 L504 438 L504.4 443 L511.2 459.6 L489.2 459.6 L497.4 443 Z" fill="#6e6e6e"/>
<rect x="498.4" y="441" width="2.4" height="19" fill="#4a4a4a"/>
<g stroke="#3a3a3a" stroke-width="0.9" fill="none" stroke-linecap="round">
<path d="M489.3 443.4 L475.2 458.4 M516.4 443.4 L522 458.4 M511.6 427.4 L522 458.4 M511 428 L512.4 457"/>
<path d="M489.6 445 L513.6 458 M516 444.4 L477 458 M493 444 L488 458 M494 443.6 L476.4 457.6 M505 444 L521 457.6"/>
</g>
<path d="M489 442.6 Q503 441.4 517 442.6 L517 444.2 Q503 443 489 444.2 Z" fill="#333"/>
<rect x="474.3" y="458" width="49.2" height="1.6" fill="#555"/>
<rect x="474.6" y="459.4" width="48.8" height="5.2" fill="#e4e4e4" stroke="#444" stroke-width="0.9"/>
<rect x="475" y="459.8" width="48" height="1.6" fill="#aaa"/>
<!-- dish -->
<g transform="translate(484.1 413.3) rotate(-42)">
<ellipse cx="0" cy="3.3" rx="43.6" ry="22.4" fill="#111"/>
<ellipse cx="0" cy="2.6" rx="42.6" ry="22.1" fill="none" stroke="#e8e8e8" stroke-width="1.5" stroke-dasharray="1.3 2.1"/>
<ellipse cx="0" cy="0" rx="43.6" ry="22.2" fill="#fff" stroke="#000" stroke-width="1.1"/>
</g>
<path d="M473.5 432 C472 424 473 416 476 411 C479 406 487 402.4 495.3 401.8 C500 401.4 505 401.6 508.7 402" fill="none" stroke="#bdbdbd" stroke-width="0.9"/>
<path d="M481 407.7 L496.1 420.2 L499.6 428.8" fill="none" stroke="#b4b4b4" stroke-width="1.1"/>
<ellipse cx="481" cy="407.7" rx="5.2" ry="4.3" fill="#9a9a9a" transform="rotate(-20 481 407.7)"/>
<ellipse cx="496.1" cy="420.2" rx="3.1" ry="2.6" fill="#a6a6a6" transform="rotate(-30 496.1 420.2)"/>
</g>
<g id="bulb">
<defs>
<linearGradient id="bulbg" gradientUnits="userSpaceOnUse" x1="724" y1="424" x2="750" y2="440">
<stop offset="0" stop-color="#e0e0e0"/><stop offset="0.3" stop-color="#ffffff"/><stop offset="0.7" stop-color="#ececec"/><stop offset="1" stop-color="#c4c4c4"/>
</linearGradient>
<linearGradient id="screwg" gradientUnits="userSpaceOnUse" x1="746" y1="446" x2="758" y2="436">
<stop offset="0" stop-color="#f4f4f4"/><stop offset="0.5" stop-color="#bbb"/><stop offset="1" stop-color="#555"/>
</linearGradient>
</defs>
<!-- tubes -->
<g transform="translate(691 388) rotate(41.6)">
<rect x="-0.8" y="-8.6" width="52" height="17.2" rx="2.8" fill="#fbfbfe" stroke="#2f4cc0" stroke-width="0.95"/>
<rect x="1.6" y="-5.6" width="51" height="11.2" rx="2.2" fill="#e3e6f7" stroke="#3a56c4" stroke-width="0.9"/>
<path d="M1.2 -7 L51 -7" stroke="#6a80d4" stroke-width="0.6"/>
<path d="M7.4 0.9 L47 0.9" stroke="#2643b4" stroke-width="1.6"/>
<path d="M34 3.6 L50 3.6 M34 -3.4 L50 -3.4 M40 7 L50 7" stroke="#3a56c2" stroke-width="0.6"/>
</g>
<!-- screw -->
<path d="M743.6 444 L750 451.4 C752 452.6 754.4 452.2 755.6 451.4 L760.2 447.8 C761.4 446 761.4 443.6 760.8 442.2 L752.7 431.5 Z" fill="url(#screwg)" stroke="#333" stroke-width="0.8" stroke-linejoin="round"/>
<path d="M747 446.6 L755.6 435.2 M749 449 L757.8 438 M751.4 451 L759.8 440.6" stroke="#111" stroke-width="1.3" fill="none"/>
<!-- base -->
<path d="M719 430.2 C718.6 432 718.8 433.4 719.6 434.2 L731.6 444.2 C733 445.4 734.6 445.8 736.1 445.7 C739 445.6 742 445.2 744.2 444.2 C747.4 440 750.4 435 752.2 430.2 C752.6 427.6 752.4 425 751.7 423.1 L740.2 411.6 C739 410.8 737.6 410.8 736.6 411.1 C735.2 411.6 734 412.6 733.1 413.6 Z" fill="url(#bulbg)" stroke="#2a2a2a" stroke-width="1.2" stroke-linejoin="round"/>
</g>
<g id="xray" fill="#000">
<circle cx="884.4" cy="386.8" r="9.7"/>
<path d="M863.5 404.3 C865 400.5 868 398.5 871 398.5 L898.5 398.5 C901.5 398.5 904 400.5 905.3 404.3 Z"/>
<rect x="856.8" y="407.7" width="55.6" height="32.4"/>
<rect x="866" y="410.8" width="37.7" height="26.2" fill="#fff"/>
<rect x="882.8" y="412.4" width="3.4" height="22.2"/>
<rect x="876.8" y="413.6" width="16" height="2.1" rx="1"/>
<rect x="874.4" y="417.8" width="20.4" height="2.1" rx="1"/>
<rect x="874.4" y="422" width="20.4" height="2.1" rx="1"/>
<rect x="874.4" y="426.2" width="20.4" height="2.1" rx="1"/>
<path d="M875.5 434.6 L875.5 432.6 Q875.5 431 877.2 431 L891.8 431 Q893.5 431 893.5 432.6 L893.5 434.6" fill="none" stroke="#000" stroke-width="2.1" stroke-linecap="round"/>
<path d="M862.6 443.7 L871 443.7 L871 447.5 A4.2 4.2 0 0 1 862.6 447.5 Z"/>
<path d="M899.5 443.7 L907 443.7 L907 447.5 A3.75 3.75 0 0 1 899.5 447.5 Z"/>
<path d="M872.7 443.7 L897 443.7 L897 455.4 L887 455.4 L887 450.5 L882.7 450.5 L882.7 455.4 L872.7 455.4 Z"/>
</g>
<g id="radio">
<path d="M984.3 390.6 L1014 442 L954.6 442 Z" fill="#000" stroke="#000" stroke-width="3.4" stroke-linejoin="round"/>
<path d="M984.3 394.6 L1010.2 439.6 L958.4 439.6 Z" fill="#e8b522"/>
<circle cx="984.3" cy="424.75" r="2.6" fill="#000"/>
<path d="M986.45 428.47 L991.10 436.53 A13.6 13.6 0 0 1 977.50 436.53 L982.15 428.47 A4.3 4.3 0 0 0 986.45 428.47 Z" fill="#000"/>
<path d="M980.00 424.75 L970.70 424.75 A13.6 13.6 0 0 1 977.50 412.97 L982.15 421.03 A4.3 4.3 0 0 0 980.00 424.75 Z" fill="#000"/>
<path d="M986.45 421.03 L991.10 412.97 A13.6 13.6 0 0 1 997.90 424.75 L988.60 424.75 A4.3 4.3 0 0 0 986.45 421.03 Z" fill="#000"/>
</g>

</svg>
</body></html>
